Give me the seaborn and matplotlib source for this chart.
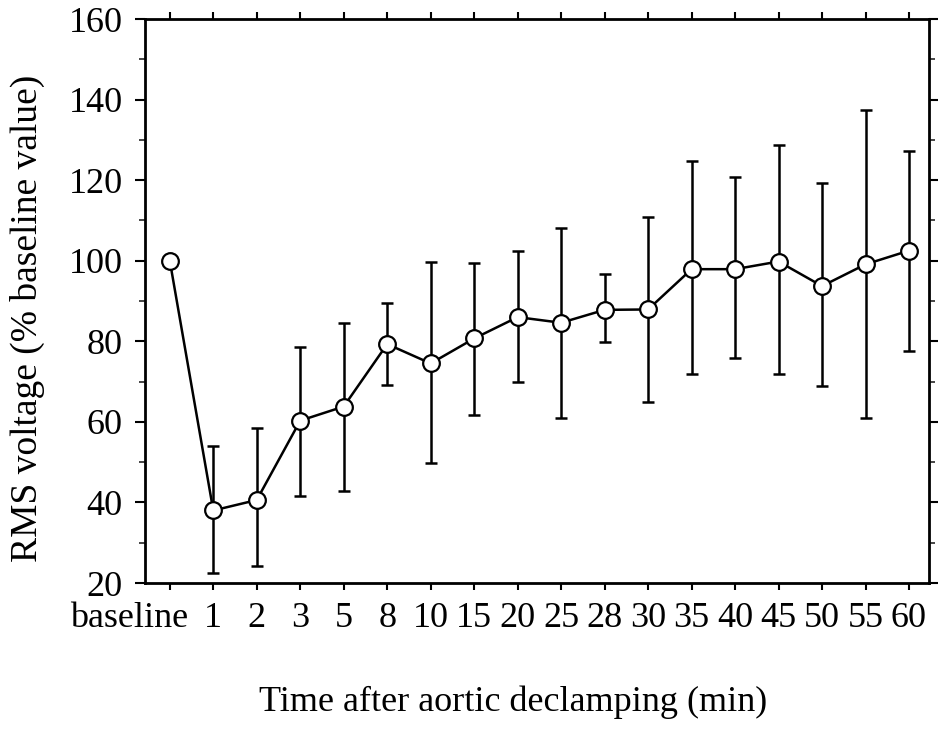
import numpy as np
import pandas as pd
import seaborn as sns
import matplotlib
matplotlib.use("Agg")
import matplotlib.pyplot as plt
import matplotlib.transforms as mtransforms
from matplotlib.ticker import MultipleLocator

categories = ["baseline", "1", "2", "3", "5", "8", "10", "15", "20", "25",
              "28", "30", "35", "40", "45", "50", "55", "60"]
means = [100.0, 38.0, 40.6, 60.3, 63.8, 79.3, 74.5, 80.7, 86.0, 84.6,
         87.8, 87.9, 97.9, 97.9, 99.8, 93.7, 99.1, 102.5]
upper = [np.nan, 54.1, 58.4, 78.5, 84.6, 89.4, 99.6, 99.5, 102.3, 108.0,
         96.7, 110.8, 124.8, 120.7, 128.6, 119.4, 137.4, 127.2]
lower = [np.nan, 22.6, 24.1, 41.6, 42.8, 69.2, 49.7, 61.7, 69.8, 61.0,
         79.8, 65.0, 71.8, 75.8, 71.8, 68.9, 61.0, 77.7]

df = pd.DataFrame({"time": categories, "value": means,
                   "upper": upper, "lower": lower})

sns.set_theme(style="ticks")
plt.rcParams["font.family"] = ["Liberation Serif", "DejaVu Serif"]
plt.rcParams["text.color"] = "black"
plt.rcParams["axes.labelcolor"] = "black"

fig = plt.figure(figsize=(9.38, 7.49), dpi=100)
ax = fig.add_axes([145/938, 1-583/749, 784/938, 564/749])

pos = np.arange(len(categories))
yerr = np.vstack([df["value"] - df["lower"], df["upper"] - df["value"]])
ax.errorbar(pos, df["value"], yerr=yerr, fmt="none", ecolor="black",
            elinewidth=1.8, capsize=4.5, capthick=1.8, zorder=2)

sns.lineplot(data=df, x=pos, y="value", ax=ax, color="black", lw=1.8,
             marker="o", markersize=12, markerfacecolor="white",
             markeredgecolor="black", markeredgewidth=1.6, zorder=3)

ax.set_xlim(-0.57, 17.46)
ax.set_ylim(20, 160)
ax.set_xticks(pos)
ax.set_xticklabels(categories)
ax.yaxis.set_major_locator(MultipleLocator(20))
ax.yaxis.set_minor_locator(MultipleLocator(10))

for s in ax.spines.values():
    s.set_visible(True)
    s.set_linewidth(2.0)
    s.set_color("black")

ax.tick_params(axis="both", which="major", direction="out", labelsize=26,
               colors="black", width=1.5)
ax.tick_params(axis="y", which="major", length=7, left=True, right=True,
               pad=9)
ax.tick_params(axis="y", which="minor", length=4, width=1.2, left=True,
               right=True)
ax.tick_params(axis="x", which="major", length=5, top=True, bottom=True,
               pad=9)

# shift the 'baseline' label left so it ends just right of its tick
bl = ax.get_xticklabels()[0]
bl.set_horizontalalignment("right")
bl.set_transform(bl.get_transform() +
                 mtransforms.ScaledTranslation(18/100, 0, fig.dpi_scale_trans))

ax.set_xlabel("Time after aortic declamping (min)", fontsize=26)
ax.set_ylabel("RMS voltage (% baseline value)", fontsize=27)
ax.xaxis.set_label_coords(0.469, -0.182)
ax.yaxis.set_label_coords(-0.1276, 0.47)

fig.savefig("out.png", dpi=100, facecolor="white")
